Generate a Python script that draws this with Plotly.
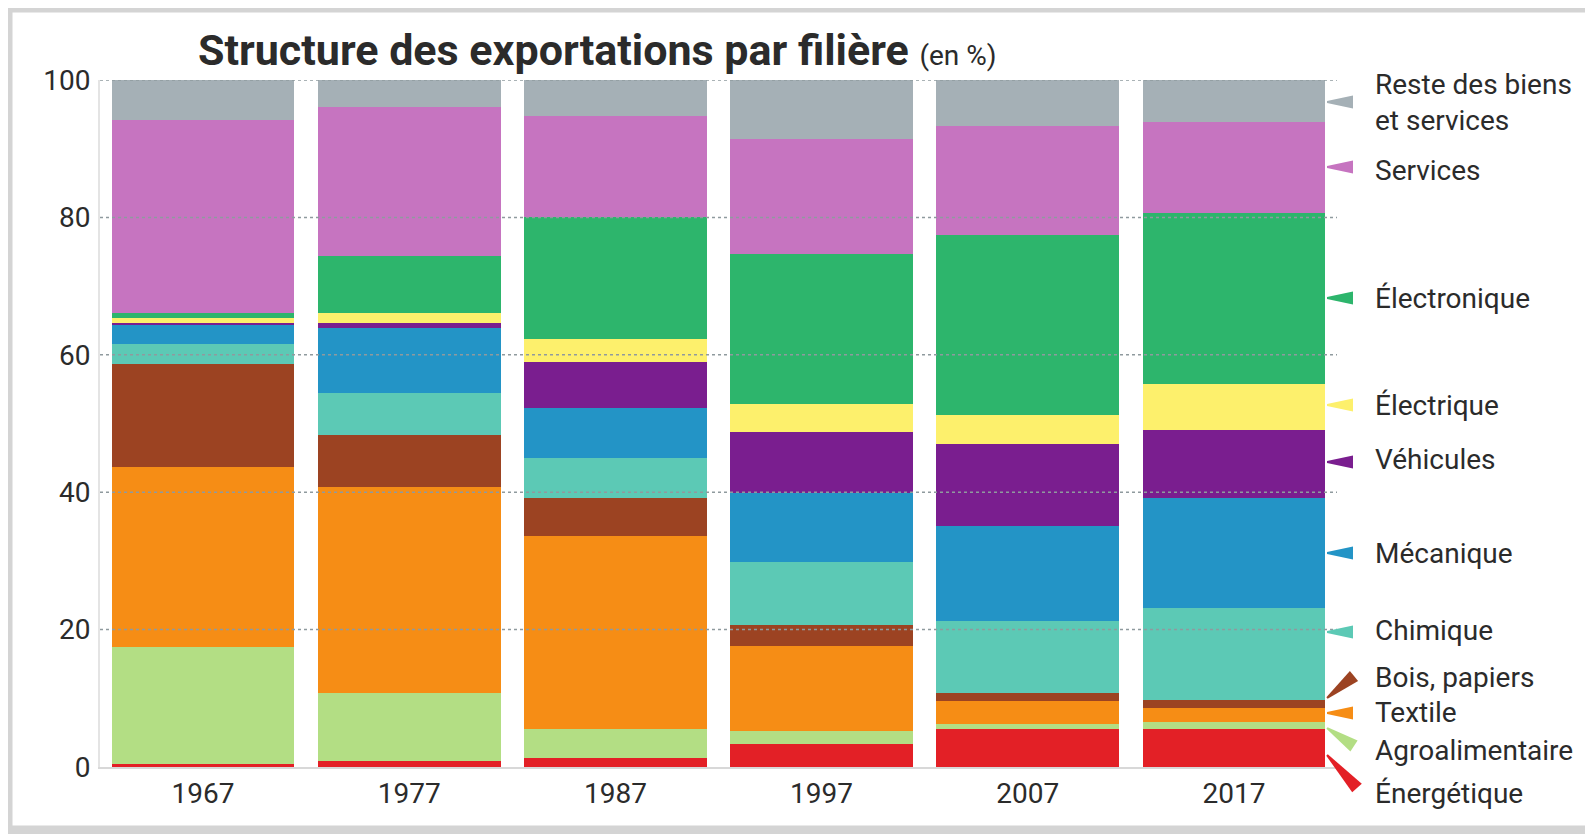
import plotly.graph_objects as go
import math

years = ["1967", "1977", "1987", "1997", "2007", "2017"]

energetique = [0.4, 0.9, 1.3, 3.3, 5.5, 5.5]
agroalimentaire = [17.1, 9.8, 4.3, 1.9, 0.7, 1.0]
textile = [26.1, 30.0, 28.0, 12.4, 3.4, 2.1]
bois_papiers = [15.0, 7.6, 5.6, 3.0, 1.1, 1.2]
chimique = [3.0, 6.1, 5.8, 9.3, 10.6, 13.3]
mecanique = [2.8, 9.5, 7.2, 10.0, 13.8, 16.1]
vehicules = [0.3, 0.7, 6.7, 8.8, 11.9, 9.8]
electrique = [0.7, 1.5, 3.4, 4.1, 4.2, 6.8]
electronique = [0.7, 8.3, 17.7, 21.9, 26.3, 24.8]
services = [28.1, 21.7, 14.8, 16.7, 15.8, 13.3]
reste = [5.8, 3.9, 5.2, 8.6, 6.7, 6.1]

series_names = ["Énergétique", "Agroalimentaire", "Textile", "Bois, papiers", "Chimique",
                "Mécanique", "Véhicules", "Électrique", "Électronique", "Services",
                "Reste des biens<br>et services"]
series_values = [energetique, agroalimentaire, textile, bois_papiers, chimique,
                 mecanique, vehicules, electrique, electronique, services, reste]
colors = ["#e32026", "#b3de84", "#f68d15", "#9c4322", "#5cc9b5",
          "#2394c6", "#7a1e8f", "#fdf06c", "#2db56c", "#c674c0", "#a5b0b6"]

y_ticks = [0, 20, 40, 60, 80, 100]

# geometry: page body has an 8px margin, so figure coords = screen coords - 8
OFF = 8
W, H = 1593 - OFF, 834 - OFF
ML, MT = 100 - OFF, 80 - OFF
PLOT_R, PLOT_B = 1337 - OFF, 767 - OFF
MR, MB = W - PLOT_R, H - PLOT_B
PW = W - ML - MR
PH = H - MT - MB

def px(X):  # screen x -> paper
    return (X - OFF - ML) / PW

def py(Y):  # screen y -> paper
    return (H - MB - (Y - OFF)) / PH

FONT = "Roboto, Liberation Sans, sans-serif"
TXT = "#2b2b2b"

fig = go.Figure()
for name, vals, col in zip(series_names, series_values, colors):
    fig.add_trace(go.Bar(x=years, y=vals, name=name.replace("<br>", " "),
                         marker=dict(color=col, line=dict(width=0)),
                         showlegend=False))

shapes = []
for t in y_ticks[1:]:
    shapes.append(dict(type="line", xref="paper", yref="y", x0=0, x1=1, y0=t, y1=t,
                       line=dict(color="#8f9a9e", width=1.5, dash="dot"), layer="above"))

# frame around the picture
shapes.append(dict(type="rect", xref="paper", yref="paper",
                   x0=px(8), x1=px(1620), y0=py(830), y1=py(8),
                   line=dict(color="#d4d4d4", width=9), layer="below"))

def wedge(tip, base, col, hw=6.5, tw=1.0):
    dx, dy = base[0] - tip[0], base[1] - tip[1]
    L = math.hypot(dx, dy)
    nx, ny = -dy / L, dx / L
    pts = [(tip[0] + nx * tw, tip[1] + ny * tw),
           (base[0] + nx * hw, base[1] + ny * hw),
           (base[0] - nx * hw, base[1] - ny * hw),
           (tip[0] - nx * tw, tip[1] - ny * tw)]
    path = "M " + " L ".join(f"{px(a):.5f},{py(b):.5f}" for a, b in pts) + " Z"
    return dict(type="path", xref="paper", yref="paper", path=path,
                fillcolor=col, line=dict(width=0), layer="above")

label_y = [793, 750, 712, 677, 630, 553, 459, 405, 298, 170, 102]
wedges = [((1327, 755), (1357, 788)),
          ((1327, 728), (1354, 746)),
          ((1327, 713), (1353, 713)),
          ((1327, 698), (1354, 676)),
          ((1327, 632), (1353, 632)),
          ((1327, 553), (1353, 553)),
          ((1327, 462), (1353, 462)),
          ((1327, 405), (1353, 405)),
          ((1327, 298), (1353, 298)),
          ((1327, 167), (1353, 167)),
          ((1327, 102), (1353, 102))]
for (tip, base), col in zip(wedges, colors):
    shapes.append(wedge(tip, base, col))

annotations = []
for name, ly in zip(series_names, label_y):
    annotations.append(dict(xref="paper", yref="paper", x=px(1373), y=py(ly),
                            xanchor="left", yanchor="middle", text=name, showarrow=False,
                            align="left", font=dict(family=FONT, size=28, color=TXT)))

annotations.append(dict(xref="paper", yref="paper", x=px(196), y=py(50), xanchor="left",
                        yanchor="middle", showarrow=False,
                        text="<b>Structure des exportations par filière</b> <span style='font-size:28px'>(en %)</span>",
                        font=dict(family=FONT, size=43, color=TXT)))

fig.update_layout(
    width=W, height=H,
    margin=dict(l=ML, r=MR, t=MT, b=MB, pad=0),
    paper_bgcolor="white", plot_bgcolor="white",
    barmode="stack", bargap=0.114,
    shapes=shapes, annotations=annotations,
    xaxis=dict(showgrid=False, showline=True, linecolor="#d8d8d8", linewidth=2,
               tickfont=dict(family=FONT, size=28, color=TXT), ticks="", ticklabelstandoff=0),
    yaxis=dict(range=[0, 100], tickvals=y_ticks, showgrid=False, zeroline=False,
               showline=True, linecolor="#e4e4e4", linewidth=2,
               tickfont=dict(family=FONT, size=28, color=TXT), ticks="", ticklabelstandoff=2),
)

fig.write_html("out.html")
